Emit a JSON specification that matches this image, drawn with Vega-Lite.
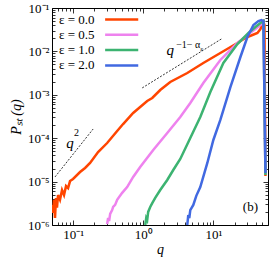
{
  "$schema": "https://vega.github.io/schema/vega-lite/v6.json",
  "width": 216,
  "height": 217,
  "autosize": {"type": "none"},
  "padding": {"left": 52, "top": 8, "right": 2, "bottom": 34},
  "config": {
    "font": "Liberation Serif",
    "view": {"stroke": null},
    "axis": {
      "grid": false,
      "domainColor": "black",
      "domainWidth": 1,
      "tickColor": "black",
      "tickWidth": 0.8,
      "labelColor": "black",
      "titleColor": "black",
      "labelFont": "Liberation Serif",
      "titleFont": "Liberation Serif",
      "labelFontSize": 13,
      "titleFontSize": 14,
      "titleFontWeight": "normal"
    }
  },
  "datasets": {
    "curves": [
      {"s": "0.0", "q": 0.05, "P": 2.9e-6},
      {"s": "0.0", "q": 0.0517, "P": 1.9e-6},
      {"s": "0.0", "q": 0.0534, "P": 3.8e-6},
      {"s": "0.0", "q": 0.0552, "P": 1.45e-6},
      {"s": "0.0", "q": 0.057, "P": 4.2e-6},
      {"s": "0.0", "q": 0.0589, "P": 2.5e-6},
      {"s": "0.0", "q": 0.0609, "P": 4.9e-6},
      {"s": "0.0", "q": 0.065, "P": 3.8e-6},
      {"s": "0.0", "q": 0.0695, "P": 6.4e-6},
      {"s": "0.0", "q": 0.0742, "P": 4.9e-6},
      {"s": "0.0", "q": 0.0793, "P": 7.9e-6},
      {"s": "0.0", "q": 0.0847, "P": 7.1e-6},
      {"s": "0.0", "q": 0.0904, "P": 1.03e-5},
      {"s": "0.0", "q": 0.0997, "P": 1.15e-5},
      {"s": "0.0", "q": 0.1256, "P": 1.66e-5},
      {"s": "0.0", "q": 0.1481, "P": 2.06e-5},
      {"s": "0.0", "q": 0.1745, "P": 2.69e-5},
      {"s": "0.0", "q": 0.227, "P": 4.81e-5},
      {"s": "0.0", "q": 0.3055, "P": 7.74e-5},
      {"s": "0.0", "q": 0.4244, "P": 1.47e-4},
      {"s": "0.0", "q": 0.516, "P": 2.12e-4},
      {"s": "0.0", "q": 0.7178, "P": 3.81e-4},
      {"s": "0.0", "q": 0.9036, "P": 5.24e-4},
      {"s": "0.0", "q": 1.138, "P": 7.2e-4},
      {"s": "0.0", "q": 1.343, "P": 8.44e-4},
      {"s": "0.0", "q": 1.745, "P": 1.29e-3},
      {"s": "0.0", "q": 2.425, "P": 1.97e-3},
      {"s": "0.0", "q": 4.24, "P": 3.18e-3},
      {"s": "0.0", "q": 7.18, "P": 5.41e-3},
      {"s": "0.0", "q": 12.56, "P": 9.19e-3},
      {"s": "0.0", "q": 21.98, "P": 1.56e-2},
      {"s": "0.0", "q": 28.6, "P": 2.04e-2},
      {"s": "0.0", "q": 36.0, "P": 2.39e-2},
      {"s": "0.0", "q": 42.4, "P": 2.65e-2},
      {"s": "0.0", "q": 46.8, "P": 3.28e-2},
      {"s": "0.0", "q": 50.0, "P": 4.27e-2},
      {"s": "0.0", "q": 51.7, "P": 4.75e-2},
      {"s": "0.0", "q": 53.4, "P": 4.05e-2},
      {"s": "0.0", "q": 55.2, "P": 1.35e-5},
      {"s": "0.5", "q": 0.3055, "P": 1.05e-6},
      {"s": "0.5", "q": 0.3155, "P": 1.45e-6},
      {"s": "0.5", "q": 0.326, "P": 1.24e-6},
      {"s": "0.5", "q": 0.3373, "P": 1.8e-6},
      {"s": "0.5", "q": 0.36, "P": 2.2e-6},
      {"s": "0.5", "q": 0.3719, "P": 2.6e-6},
      {"s": "0.5", "q": 0.397, "P": 2.9e-6},
      {"s": "0.5", "q": 0.4244, "P": 3.8e-6},
      {"s": "0.5", "q": 0.5003, "P": 5.5e-6},
      {"s": "0.5", "q": 0.5894, "P": 7.5e-6},
      {"s": "0.5", "q": 0.7178, "P": 1.28e-5},
      {"s": "0.5", "q": 0.9036, "P": 2.17e-5},
      {"s": "0.5", "q": 1.387, "P": 5.35e-5},
      {"s": "0.5", "q": 2.197, "P": 1.32e-4},
      {"s": "0.5", "q": 3.37, "P": 3.08e-4},
      {"s": "0.5", "q": 4.68, "P": 6.47e-4},
      {"s": "0.5", "q": 7.18, "P": 1.87e-3},
      {"s": "0.5", "q": 12.56, "P": 6.34e-3},
      {"s": "0.5", "q": 21.98, "P": 1.56e-2},
      {"s": "0.5", "q": 30.5, "P": 2.39e-2},
      {"s": "0.5", "q": 39.7, "P": 3.28e-2},
      {"s": "0.5", "q": 46.8, "P": 4.05e-2},
      {"s": "0.5", "q": 51.7, "P": 4.75e-2},
      {"s": "0.5", "q": 55.2, "P": 1.42e-5},
      {"s": "1.0", "q": 1.067, "P": 1.0e-6},
      {"s": "1.0", "q": 1.102, "P": 1.45e-6},
      {"s": "1.0", "q": 1.138, "P": 1.3e-6},
      {"s": "1.0", "q": 1.175, "P": 2.0e-6},
      {"s": "1.0", "q": 1.256, "P": 2.6e-6},
      {"s": "1.0", "q": 1.343, "P": 3.2e-6},
      {"s": "1.0", "q": 1.48, "P": 4.2e-6},
      {"s": "1.0", "q": 1.745, "P": 6.4e-6},
      {"s": "1.0", "q": 2.197, "P": 1.09e-5},
      {"s": "1.0", "q": 2.677, "P": 1.85e-5},
      {"s": "1.0", "q": 3.37, "P": 3.32e-5},
      {"s": "1.0", "q": 4.68, "P": 1.01e-4},
      {"s": "1.0", "q": 6.5, "P": 3.08e-4},
      {"s": "1.0", "q": 9.04, "P": 1.16e-3},
      {"s": "1.0", "q": 13.87, "P": 5.41e-3},
      {"s": "1.0", "q": 21.98, "P": 1.48e-2},
      {"s": "1.0", "q": 31.6, "P": 2.65e-2},
      {"s": "1.0", "q": 39.7, "P": 3.65e-2},
      {"s": "1.0", "q": 46.8, "P": 4.51e-2},
      {"s": "1.0", "q": 51.7, "P": 5.01e-2},
      {"s": "1.0", "q": 55.2, "P": 1.42e-5},
      {"s": "2.0", "q": 4.24, "P": 1.0e-6},
      {"s": "2.0", "q": 4.38, "P": 1.7e-6},
      {"s": "2.0", "q": 4.53, "P": 1.45e-6},
      {"s": "2.0", "q": 4.68, "P": 2.2e-6},
      {"s": "2.0", "q": 5.17, "P": 2.9e-6},
      {"s": "2.0", "q": 5.7, "P": 4.7e-6},
      {"s": "2.0", "q": 6.5, "P": 7.5e-6},
      {"s": "2.0", "q": 8.19, "P": 2.69e-5},
      {"s": "2.0", "q": 9.98, "P": 9.1e-5},
      {"s": "2.0", "q": 12.56, "P": 2.63e-4},
      {"s": "2.0", "q": 17.46, "P": 1.51e-3},
      {"s": "2.0", "q": 24.26, "P": 7.43e-3},
      {"s": "2.0", "q": 30.5, "P": 2.15e-2},
      {"s": "2.0", "q": 37.2, "P": 4.05e-2},
      {"s": "2.0", "q": 43.8, "P": 5.01e-2},
      {"s": "2.0", "q": 48.4, "P": 5.29e-2},
      {"s": "2.0", "q": 51.7, "P": 5.01e-2},
      {"s": "2.0", "q": 55.2, "P": 1.58e-5}
    ],
    "guides": [
      {"g": "a", "q": 0.0552, "P": 1.28e-5},
      {"g": "a", "q": 0.193, "P": 1.63e-4},
      {"g": "b", "q": 0.966, "P": 1.44e-3},
      {"g": "b", "q": 12.97, "P": 1.93e-2}
    ],
    "legendLines": [
      {"s": "0.0", "q": 0.286, "P": 0.0543},
      {"s": "0.0", "q": 0.848, "P": 0.0543},
      {"s": "0.5", "q": 0.286, "P": 0.0241},
      {"s": "0.5", "q": 0.848, "P": 0.0241},
      {"s": "1.0", "q": 0.286, "P": 0.01072},
      {"s": "1.0", "q": 0.848, "P": 0.01072},
      {"s": "2.0", "q": 0.286, "P": 0.00476},
      {"s": "2.0", "q": 0.848, "P": 0.00476}
    ],
    "legendText": [
      {"label": "ε = 0.0", "q": 0.0629, "P": 0.0543},
      {"label": "ε = 0.5", "q": 0.0629, "P": 0.0241},
      {"label": "ε = 1.0", "q": 0.0629, "P": 0.01072},
      {"label": "ε = 2.0", "q": 0.0629, "P": 0.00476}
    ],
    "bigLetters": [
      {"t": "q", "q": 0.0904, "P": 7.74e-5},
      {"t": "q", "q": 2.43, "P": 0.0108}
    ],
    "supers": [
      {"t": "2", "q": 0.1032, "P": 1.32e-4},
      {"t": "−1− α", "q": 2.95, "P": 0.014}
    ],
    "subs": [
      {"t": "ε", "q": 6.5, "P": 0.0113}
    ],
    "panel": [
      {"t": "(b)", "q": 33.7, "P": 2.6e-6}
    ]
  },
  "layer": [
    {
      "data": {"name": "curves"},
      "mark": {"type": "line", "strokeWidth": 2.5, "clip": true},
      "encoding": {
        "x": {"field": "q", "type": "quantitative",
          "scale": {"type": "log", "domain": [0.05, 60], "nice": false},
          "axis": {"orient": "bottom", "title": "q", "titleFontStyle": "italic", "titlePadding": -1,
            "tickCount": 40, "labelOverlap": false, "labelFlush": false, "labelPadding": 8,
            "tickSize": {"condition": {"test": "abs(log(datum.value)/LN10 - round(log(datum.value)/LN10)) < 0.001", "value": -5}, "value": -3},
            "labelExpr": "abs(log(datum.value)/LN10 - round(log(datum.value)/LN10)) > 0.001 ? '' : ['10⁻⁶','10⁻⁵','10⁻⁴','10⁻³','10⁻²','10⁻¹','10⁰','10¹','10²'][round(log(datum.value)/LN10) + 6]"}},
        "y": {"field": "P", "type": "quantitative",
          "scale": {"type": "log", "domain": [1e-6, 0.1], "nice": false},
          "axis": {"orient": "left", "title": "Pₛₜ (q)", "titleFontStyle": "italic", "titlePadding": 4,
            "tickCount": 40, "labelOverlap": false, "labelFlush": false, "labelPadding": 8,
            "tickSize": {"condition": {"test": "abs(log(datum.value)/LN10 - round(log(datum.value)/LN10)) < 0.001", "value": -5}, "value": -3},
            "labelExpr": "abs(log(datum.value)/LN10 - round(log(datum.value)/LN10)) > 0.001 ? '' : ['10⁻⁶','10⁻⁵','10⁻⁴','10⁻³','10⁻²','10⁻¹','10⁰','10¹','10²'][round(log(datum.value)/LN10) + 6]"}},
        "color": {"field": "s", "type": "nominal",
          "scale": {"domain": ["0.0", "0.5", "1.0", "2.0"], "range": ["#ff4500", "#ee82ee", "#3cb371", "#4169e1"]},
          "legend": null}
      }
    },
    {
      "data": {"name": "guides"},
      "mark": {"type": "line", "strokeDash": [2, 1.5], "strokeWidth": 0.8, "color": "black"},
      "encoding": {
        "x": {"field": "q", "type": "quantitative",
          "scale": {"type": "log", "domain": [0.05, 60], "nice": false},
          "axis": {"orient": "top", "title": null, "labels": false, "tickCount": 40,
            "tickSize": {"condition": {"test": "abs(log(datum.value)/LN10 - round(log(datum.value)/LN10)) < 0.001", "value": -5}, "value": -3}}},
        "y": {"field": "P", "type": "quantitative",
          "scale": {"type": "log", "domain": [1e-6, 0.1], "nice": false},
          "axis": {"orient": "right", "title": null, "labels": false, "tickCount": 40,
            "tickSize": {"condition": {"test": "abs(log(datum.value)/LN10 - round(log(datum.value)/LN10)) < 0.001", "value": -5}, "value": -3}}},
        "detail": {"field": "g"}
      }
    },
    {
      "data": {"name": "legendLines"},
      "mark": {"type": "line", "strokeWidth": 2.5},
      "encoding": {
        "x": {"field": "q", "type": "quantitative", "scale": {"type": "log", "domain": [0.05, 60], "nice": false}, "axis": null},
        "y": {"field": "P", "type": "quantitative", "scale": {"type": "log", "domain": [1e-6, 0.1], "nice": false}, "axis": null},
        "color": {"field": "s", "type": "nominal", "legend": null}
      }
    },
    {
      "data": {"name": "legendText"},
      "mark": {"type": "text", "align": "left", "baseline": "middle", "fontSize": 13, "font": "Liberation Serif", "color": "black"},
      "encoding": {
        "x": {"field": "q", "type": "quantitative", "scale": {"type": "log", "domain": [0.05, 60], "nice": false}, "axis": null},
        "y": {"field": "P", "type": "quantitative", "scale": {"type": "log", "domain": [1e-6, 0.1], "nice": false}, "axis": null},
        "text": {"field": "label"}
      }
    },
    {
      "data": {"name": "bigLetters"},
      "mark": {"type": "text", "align": "center", "baseline": "middle", "fontSize": 15, "fontStyle": "italic", "font": "Liberation Serif", "color": "black"},
      "encoding": {
        "x": {"field": "q", "type": "quantitative", "scale": {"type": "log", "domain": [0.05, 60], "nice": false}, "axis": null},
        "y": {"field": "P", "type": "quantitative", "scale": {"type": "log", "domain": [1e-6, 0.1], "nice": false}, "axis": null},
        "text": {"field": "t"}
      }
    },
    {
      "data": {"name": "supers"},
      "mark": {"type": "text", "align": "left", "baseline": "middle", "fontSize": 10, "font": "Liberation Serif", "color": "black"},
      "encoding": {
        "x": {"field": "q", "type": "quantitative", "scale": {"type": "log", "domain": [0.05, 60], "nice": false}, "axis": null},
        "y": {"field": "P", "type": "quantitative", "scale": {"type": "log", "domain": [1e-6, 0.1], "nice": false}, "axis": null},
        "text": {"field": "t"}
      }
    },
    {
      "data": {"name": "subs"},
      "mark": {"type": "text", "align": "left", "baseline": "middle", "fontSize": 7, "font": "Liberation Serif", "color": "black"},
      "encoding": {
        "x": {"field": "q", "type": "quantitative", "scale": {"type": "log", "domain": [0.05, 60], "nice": false}, "axis": null},
        "y": {"field": "P", "type": "quantitative", "scale": {"type": "log", "domain": [1e-6, 0.1], "nice": false}, "axis": null},
        "text": {"field": "t"}
      }
    },
    {
      "data": {"name": "panel"},
      "mark": {"type": "text", "align": "center", "baseline": "middle", "fontSize": 13, "font": "Liberation Serif", "color": "black"},
      "encoding": {
        "x": {"field": "q", "type": "quantitative", "scale": {"type": "log", "domain": [0.05, 60], "nice": false}, "axis": null},
        "y": {"field": "P", "type": "quantitative", "scale": {"type": "log", "domain": [1e-6, 0.1], "nice": false}, "axis": null},
        "text": {"field": "t"}
      }
    }
  ],
  "resolve": {"axis": {"x": "independent", "y": "independent"}}
}
